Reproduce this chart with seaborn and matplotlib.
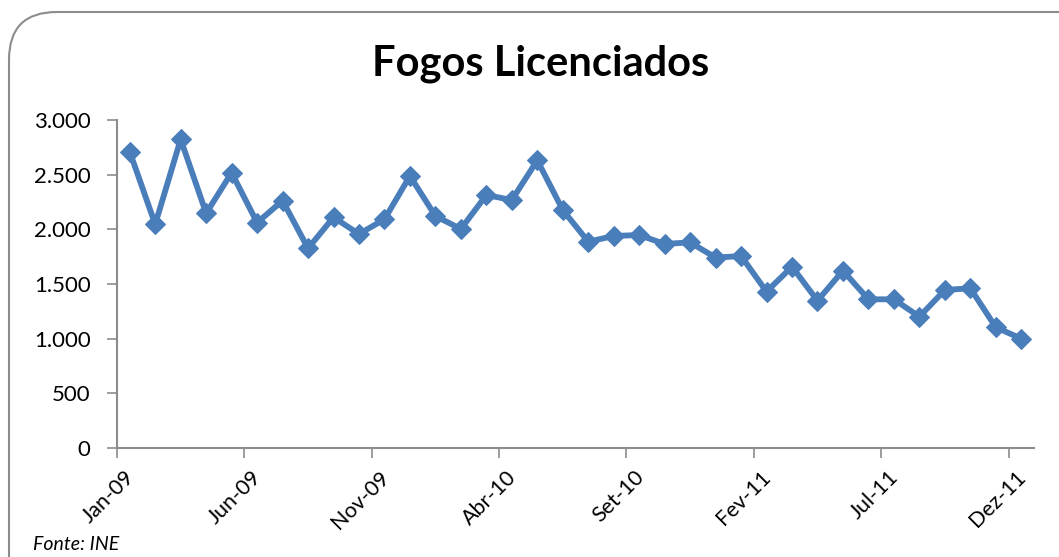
import numpy as np
import pandas as pd
import matplotlib
matplotlib.use("Agg")
import matplotlib.pyplot as plt
import matplotlib.ticker as mticker
import matplotlib.transforms as mtransforms
from matplotlib.patches import FancyBboxPatch
import seaborn as sns

# -----------------------------
# Data
# -----------------------------
meses = [
    "Jan-09", "Fev-09", "Mar-09", "Abr-09", "Mai-09", "Jun-09",
    "Jul-09", "Ago-09", "Set-09", "Out-09", "Nov-09", "Dez-09",
    "Jan-10", "Fev-10", "Mar-10", "Abr-10", "Mai-10", "Jun-10",
    "Jul-10", "Ago-10", "Set-10", "Out-10", "Nov-10", "Dez-10",
    "Jan-11", "Fev-11", "Mar-11", "Abr-11", "Mai-11", "Jun-11",
    "Jul-11", "Ago-11", "Set-11", "Out-11", "Nov-11", "Dez-11",
]
fogos = [
    2710, 2046, 2823, 2147, 2518, 2061,
    2262, 1826, 2110, 1957, 2092, 2488,
    2122, 2003, 2314, 2268, 2631, 2177,
    1887, 1939, 1948, 1866, 1881, 1741,
    1756, 1430, 1658, 1347, 1622, 1360,
    1360, 1201, 1445, 1461, 1104, 1000,
]
tick_labels = ["Jan-09", "Jun-09", "Nov-09", "Abr-10", "Set-10", "Fev-11", "Jul-11", "Dez-11"]
y_ticks = [0, 500, 1000, 1500, 2000, 2500, 3000]

df = pd.DataFrame({"mes": meses, "fogos": fogos})
df["pos"] = np.arange(len(df))

# -----------------------------
# Style
# -----------------------------
sns.set_style("white")
plt.rcParams["font.family"] = ["Lato", "DejaVu Sans"]
plt.rcParams["text.color"] = "black"

W, H = 1059, 557
fig = plt.figure(figsize=(W / 100, H / 100), dpi=100)
ax = fig.add_axes([117 / W, 1 - 448 / H, (1034 - 117) / W, (448 - 120) / H])

# chart area border with rounded corners
border = FancyBboxPatch((9 / W, -0.1), 1.2, 1 - 12 / H + 0.1,
                        boxstyle="round,pad=0,rounding_size=0.045",
                        transform=fig.transFigure, facecolor="none",
                        edgecolor="#8c8c8c", linewidth=1.5, zorder=0,
                        mutation_aspect=W / H)
fig.patches.append(border)

line_color = "#4a7ebb"
sns.lineplot(data=df, x="pos", y="fogos", ax=ax, color=line_color,
             linewidth=4.2, marker="D", markersize=10.5,
             markeredgecolor=line_color)

ax.set_xlim(-0.5, len(df) - 0.5)
ax.set_ylim(0, 3000)

# x ticks between months, every 5 months; labels drawn as rotated text
tick_pos = [meses.index(t) - 0.5 for t in tick_labels]
ax.set_xticks(tick_pos)
ax.set_xticklabels([])
shift = mtransforms.ScaledTranslation(7 / 100, -19 / 100, fig.dpi_scale_trans)
for p, t in zip(tick_pos, tick_labels):
    ax.text(p, 0, t, transform=ax.get_xaxis_transform() + shift,
            rotation=45, ha="right", va="top", rotation_mode="anchor",
            fontsize=15.5, color="black", clip_on=False)

ax.set_yticks(y_ticks)
ax.yaxis.set_major_formatter(mticker.FuncFormatter(
    lambda v, p: f"{int(v):,}".replace(",", ".")))
ax.tick_params(axis="y", labelsize=16, length=7, width=1.2,
               color="#8c8c8c", labelcolor="black", pad=12, left=True)
ax.tick_params(axis="x", length=7, width=1.2, color="#8c8c8c", bottom=True)

ax.set_xlabel("")
ax.set_ylabel("")
for s in ["top", "right"]:
    ax.spines[s].set_visible(False)
for s in ["left", "bottom"]:
    ax.spines[s].set_color("#8c8c8c")
    ax.spines[s].set_linewidth(1.5)

fig.text(541 / W, 1 - 64 / H, "Fogos Licenciados", ha="center", va="center",
         fontsize=30, fontweight="bold", color="black")
fig.text(33 / W, 1 - 545 / H, "Fonte: INE", ha="left", va="center",
         fontsize=14, style="italic", color="black")

fig.savefig("out.png", dpi=100)
